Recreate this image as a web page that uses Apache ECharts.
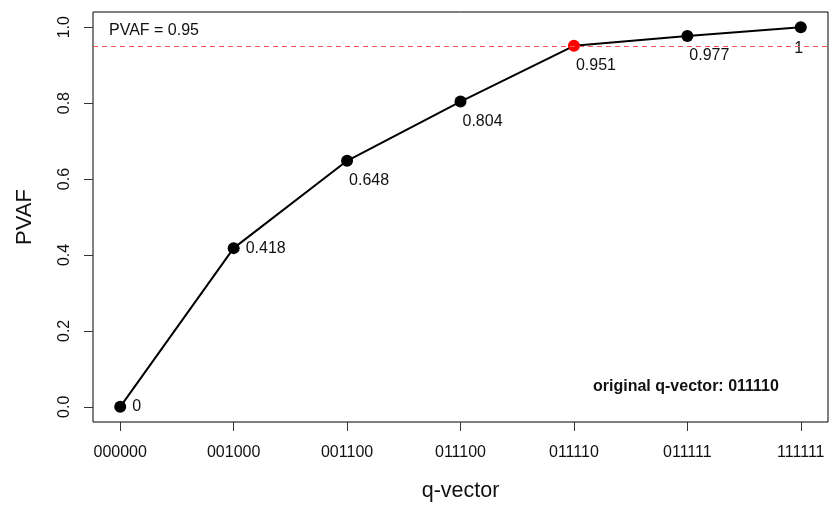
<!DOCTYPE html>
<html>
<head>
<meta charset="utf-8">
<script src="https://cdn.jsdelivr.net/npm/echarts@6/dist/echarts.min.js"></script>
<style>
  html, body { margin: 0; padding: 0; background: #fff; }
  #chart { width: 832px; height: 507px; }
</style>
</head>
<body>
<div id="chart"></div>
<script>
// q-vectors along the search path and their PVAF values
var qVectors = ['000000', '001000', '001100', '011100', '011110', '011111', '111111'];
var pvaf = [0, 0.418, 0.648, 0.804, 0.951, 0.977, 1];
var pvafLabels = ['0', '0.418', '0.648', '0.804', '0.951', '0.977', '1'];
var yTicks = [0, 0.2, 0.4, 0.6, 0.8, 1.0];
var cutoff = 0.95;
var originalQ = '011110';

var FONT = '"Liberation Sans", Arial, sans-serif';
var TXT = '#111';
var FS = 16;

var xPos = qVectors.map(function (_, i) { return i + 1; });
var origIndex = qVectors.indexOf(originalQ);

var points = pvaf.map(function (v, i) {
  var label;
  if (i <= 1) {
    label = { show: true, position: 'right', distance: 6, align: 'left', verticalAlign: 'middle' };
  } else if (i === pvaf.length - 1) {
    label = { show: true, position: [4, 27], align: 'center', verticalAlign: 'middle' };
  } else {
    label = { show: true, position: [8, 26], align: 'left', verticalAlign: 'middle' };
  }
  label.formatter = pvafLabels[i];
  label.fontFamily = FONT;
  label.fontSize = FS;
  label.color = TXT;
  var item = { value: [xPos[i], v], label: label };
  if (i === origIndex) item.itemStyle = { color: '#ff0000' };
  return item;
});

var chart = echarts.init(document.getElementById('chart'), null, { renderer: 'canvas' });
chart.setOption({
  animation: false,
  backgroundColor: '#ffffff',
  grid: {
    left: 93, right: 4, top: 12, bottom: 85,
    show: true, borderColor: '#000', borderWidth: 1, backgroundColor: 'transparent'
  },
  xAxis: {
    type: 'value',
    min: 0.76, max: 7.24,
    splitLine: { show: false },
    axisLine: { show: false, onZero: false },
    axisTick: { show: true, length: 9, inside: false, customValues: xPos, lineStyle: { color: '#333', width: 1 } },
    axisLabel: {
      customValues: xPos,
      margin: 23,
      fontFamily: FONT, fontSize: FS, color: TXT,
      formatter: function (v) { return qVectors[Math.round(v) - 1] || ''; }
    },
    name: 'q-vector',
    nameLocation: 'middle',
    nameGap: 58,
    nameTextStyle: { fontFamily: FONT, fontSize: 21.5, color: TXT }
  },
  yAxis: {
    type: 'value',
    min: -0.04, max: 1.04,
    splitLine: { show: false },
    axisLine: { show: false, onZero: false },
    axisTick: { show: true, length: 9, inside: false, customValues: yTicks, lineStyle: { color: '#333', width: 1 } },
    axisLabel: {
      customValues: yTicks,
      rotate: 90,
      margin: 20,
      fontFamily: FONT, fontSize: FS, color: TXT,
      formatter: function (v) { return v.toFixed(1); }
    },
    name: 'PVAF',
    nameLocation: 'middle',
    nameGap: 57,
    nameRotate: 90,
    nameTextStyle: { fontFamily: FONT, fontSize: 22, color: TXT }
  },
  series: [{
    type: 'line',
    data: points,
    symbol: 'circle',
    symbolSize: 12,
    itemStyle: { color: '#000' },
    lineStyle: { color: '#000', width: 2 },
    z: 3,
    markLine: {
      silent: true,
      symbol: 'none',
      label: { show: false },
      lineStyle: { color: '#f25a5a', type: [5, 4], width: 1 },
      data: [{ yAxis: cutoff }]
    }
  }],
  graphic: [
    {
      type: 'text', left: 109, top: 23,
      style: { text: 'PVAF = ' + cutoff.toFixed(2), fontFamily: FONT, fontSize: FS, fill: TXT }
    },
    {
      type: 'text', left: 593, top: 379,
      style: { text: 'original q-vector: ' + originalQ, fontFamily: FONT, fontSize: 16, fontWeight: 'bold', fill: TXT }
    }
  ]
});
</script>
</body>
</html>
